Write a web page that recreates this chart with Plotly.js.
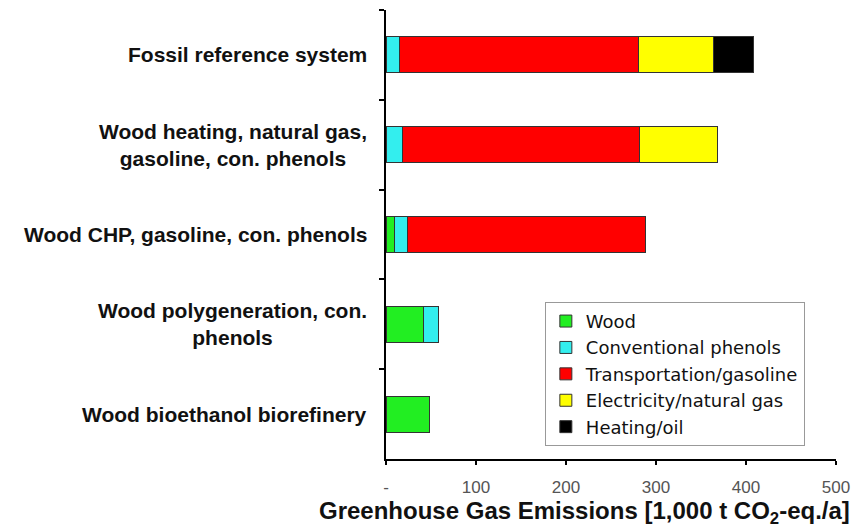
<!DOCTYPE html>
<html><head><meta charset="utf-8">
<script src="https://cdn.plot.ly/plotly-3.0.1.min.js"></script>
<style>html,body{margin:0;padding:0;background:#fff;}#chart{width:865px;height:529px;}</style>
</head><body><div id="chart"></div>
<script>
const categories = [
  "Fossil reference system",
  "Wood heating, natural gas,<br>gasoline, con. phenols",
  "Wood CHP, gasoline, con. phenols",
  "Wood polygeneration, con.<br>phenols",
  "Wood bioethanol biorefinery"
];
const seriesNames = ["Wood", "Conventional phenols", "Transportation/gasoline", "Electricity/natural gas", "Heating/oil"];
const wood        = [0, 0, 9, 42, 48];
const convPhenols = [15, 18, 15, 16, 0];
const transport   = [265, 264, 264, 0, 0];
const electricity = [84, 86, 0, 0, 0];
const heatingOil  = [44, 0, 0, 0, 0];
const seriesColors = ["#22ee22", "#33eeee", "#ff0000", "#ffff00", "#000000"];
const xTickVals = [0, 100, 200, 300, 400, 500];
const xTickText = ["-", "100", "200", "300", "400", "500"];
const xTitle = "Greenhouse Gas Emissions [1,000 t CO<sub>2</sub>-eq./a]";

const allSeries = [wood, convPhenols, transport, electricity, heatingOil];
const idx = categories.map((c, i) => i);
const traces = allSeries.map((vals, k) => ({
  type: "bar", orientation: "h", name: seriesNames[k],
  x: vals, y: idx, width: 0.4,
  marker: {color: seriesColors[k], line: {color: "#333", width: 1}},
  hoverinfo: "x+name"
}));

const annotations = categories.map((c, i) => ({
  text: "<b>" + c + "</b>", xref: "paper", x: 0, xshift: -17, xanchor: "right",
  yref: "y", y: i, yanchor: "middle", align: "center", showarrow: false,
  font: {family: "Liberation Sans, Arial, sans-serif", size: 21, color: "#111"}
}));
annotations.push({
  text: "<b>" + xTitle + "</b>", xref: "paper", x: 0.44, xanchor: "center",
  yref: "paper", y: 0, yanchor: "top", yshift: -36, showarrow: false,
  font: {family: "Liberation Sans, Arial, sans-serif", size: 24, color: "#111"}
});

const layout = {
  width: 865, height: 529,
  margin: {l: 386, r: 29, t: 10, b: 70},
  paper_bgcolor: "#fff", plot_bgcolor: "#fff",
  barmode: "stack", bargap: 0.6,
  showlegend: true,
  legend: {
    x: 0.353, y: 0.35, xanchor: "left", yanchor: "top",
    traceorder: "normal", bgcolor: "#fff", bordercolor: "#999", borderwidth: 1,
    font: {family: "DejaVu Sans, sans-serif", size: 18, color: "#111"},
    itemwidth: 30, tracegroupgap: 0
  },
  xaxis: {
    range: [0, 500], tickvals: xTickVals, ticktext: xTickText,
    showgrid: false, zeroline: false, showline: true, linecolor: "#000", linewidth: 2,
    ticks: "outside", ticklen: 4, tickwidth: 2, tickcolor: "#000",
    ticklabelstandoff: 8,
    tickfont: {family: "Liberation Sans, Arial, sans-serif", size: 17, color: "#555"}
  },
  yaxis: {
    range: [4.5, -0.5], tickvals: [-0.5, 0.5, 1.5, 2.5, 3.5], showticklabels: false,
    showgrid: false, zeroline: false, showline: true, linecolor: "#000", linewidth: 2,
    ticks: "outside", ticklen: 5, tickwidth: 2, tickcolor: "#000"
  },
  annotations: annotations
};
Plotly.newPlot("chart", traces, layout, {displayModeBar: false, staticPlot: true});
</script></body></html>
